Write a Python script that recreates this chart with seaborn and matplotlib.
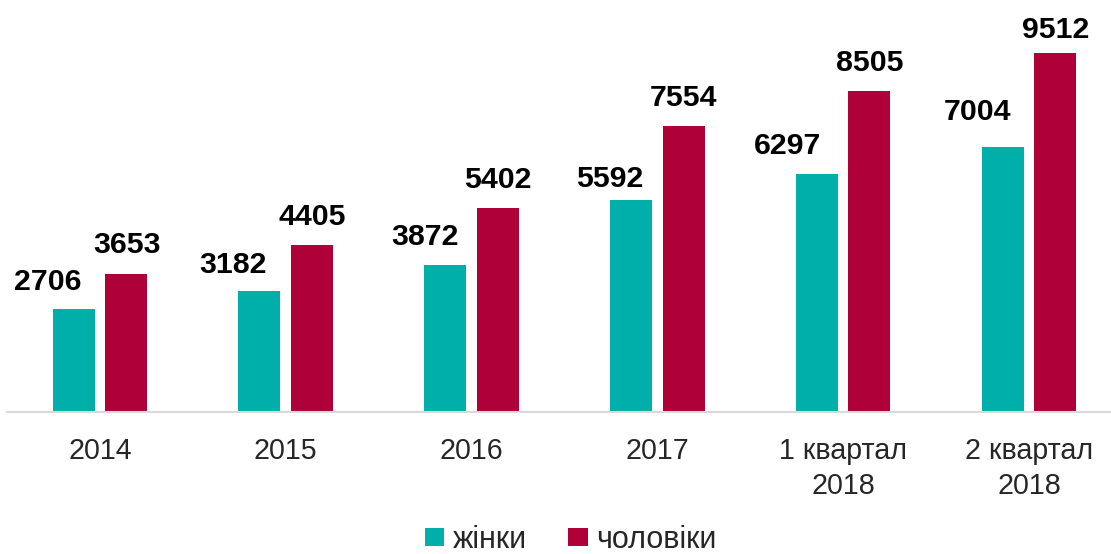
import matplotlib
matplotlib.use("Agg")
import matplotlib.pyplot as plt
import seaborn as sns
import pandas as pd
from matplotlib.patches import Patch

periods = ["2014", "2015", "2016", "2017", "1 квартал\n2018", "2 квартал\n2018"]
women = [2706, 3182, 3872, 5592, 6297, 7004]
men = [3653, 4405, 5402, 7554, 8505, 9512]
series_names = ["жінки", "чоловіки"]
colors = ["#00AFAA", "#AF0039"]

# label offsets in pixels (style)
women_dx = [-26, -26, -20, -21, -29, -25]
women_dy = [19, 18, 20, 13, 20, 27]
men_dx = [1, 0, 0, 0, 0, 1]
men_dy = [21, 20, 20, 20, 20, 15]

df = pd.DataFrame({
    "period": periods * 2,
    "value": women + men,
    "sex": [series_names[0]] * len(periods) + [series_names[1]] * len(periods),
})

sns.set_theme(style="white")
plt.rcParams["font.family"] = ["Liberation Sans", "DejaVu Sans"]

W, H = 1111, 554
dpi = 100
fig = plt.figure(figsize=(W / dpi, H / dpi), dpi=dpi)
left_px = 7
spacing = 185.8
ax = fig.add_axes([left_px / W, (H - 411.5) / H, (W - left_px) / W, 377.4 / H])

sns.barplot(data=df, x="period", y="value", hue="sex", palette=colors,
            width=0.565, gap=0.2, ax=ax, legend=False, linewidth=0,
            saturation=1, order=periods, hue_order=series_names)

ax.set_xlim(-0.5, -0.5 + (W - left_px) / spacing)
ax.set_ylim(0, 10000)
ax.set_xlabel("")
ax.set_ylabel("")
ax.set_yticks([])
for s in ["top", "right", "left"]:
    ax.spines[s].set_visible(False)
ax.spines["bottom"].set_color("#D9D9D9")
ax.spines["bottom"].set_linewidth(1.5)
ax.tick_params(axis="x", length=0, pad=18.3, labelsize=20.6, labelcolor="#262626")
for lbl in ax.get_xticklabels():
    lbl.set_linespacing(1.3)

px2pt = 72 / dpi
for ci, (cont, dxs, dys) in enumerate(zip(ax.containers, [women_dx, men_dx], [women_dy, men_dy])):
    for j, bar in enumerate(cont):
        xc = bar.get_x() + bar.get_width() / 2
        h = bar.get_height()
        ax.annotate(f"{int(round(h))}", (xc, h),
                    xytext=(dxs[j] * px2pt, dys[j] * px2pt), textcoords="offset points",
                    ha="center", va="baseline", fontsize=21.8, fontweight="bold",
                    color="#000000", annotation_clip=False)

handles = [Patch(facecolor=c, edgecolor="none") for c in colors]
fig.legend(handles, series_names, loc="center", bbox_to_anchor=(570.5 / W, (H - 540) / H),
           ncol=2, frameon=False, fontsize=22, handlelength=0.65, handleheight=0.5,
           handletextpad=0.27, columnspacing=1.35, borderpad=0, labelcolor="#262626")

fig.savefig("out.png", dpi=dpi)
